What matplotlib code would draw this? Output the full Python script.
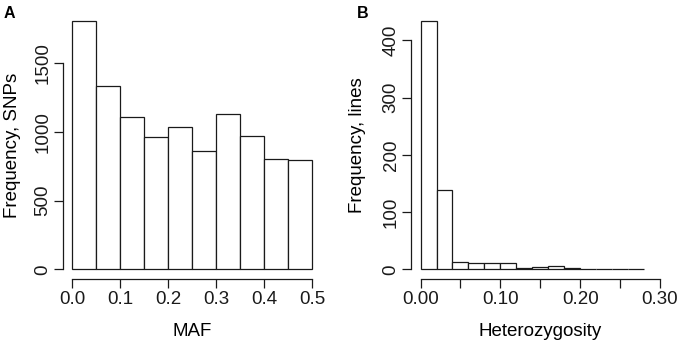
#!/usr/bin/env python3

from matplotlib import pyplot as plt
import numpy as np
import matplotlib

# Panel A: minor allele frequency histogram (bin width 0.05)
maf_edges = [0.0, 0.05, 0.10, 0.15, 0.20, 0.25, 0.30, 0.35, 0.40, 0.45, 0.50]
maf_counts = [1806, 1332, 1106, 963, 1031, 863, 1128, 968, 800, 793]
maf_xticks = [0.0, 0.1, 0.2, 0.3, 0.4, 0.5]
maf_xticklabels = ["0.0", "0.1", "0.2", "0.3", "0.4", "0.5"]
maf_yticks = [0, 500, 1000, 1500]

# Panel B: heterozygosity histogram (bin width 0.02)
het_edges = [0.00, 0.02, 0.04, 0.06, 0.08, 0.10, 0.12, 0.14, 0.16,
             0.18, 0.20, 0.22, 0.24, 0.26, 0.28]
het_counts = [434, 138, 13, 11, 11, 11, 3, 4, 6, 2, 1, 0, 1, 1]
het_xticks = [0.00, 0.05, 0.10, 0.15, 0.20, 0.25, 0.30]
het_xticklabels = ["0.00", "", "0.10", "", "0.20", "", "0.30"]
het_yticks = [0, 100, 200, 300, 400]


def setup():
    matplotlib.rcParams.update({
        "font.family": ["Liberation Sans", "DejaVu Sans"],
        "font.size": 13.5,
        "axes.linewidth": 0.9,
        "xtick.major.width": 0.9,
        "ytick.major.width": 0.9,
        "xtick.major.size": 6.2,
        "ytick.major.size": 6.2,
        "xtick.major.pad": 2.0,
        "ytick.major.pad": 2.0,
    })


def r_hist(ax, edges, counts, xlim, xticks, xticklabels, yticks,
           xlabel, ylabel, ylab_x):
    edges = np.asarray(edges)
    counts = np.asarray(counts)
    ax.bar(edges[:-1], counts, width=np.diff(edges), align="edge",
           facecolor="white", edgecolor="#1a1a1a", linewidth=0.9)

    # R style: 4% padding around the data range
    xr = xlim[1] - xlim[0]
    ymax = counts.max()
    ax.set_xlim(xlim[0] - 0.04 * xr, xlim[1] + 0.04 * xr)
    ax.set_ylim(-0.04 * ymax, ymax * 1.04)

    for s in ["top", "right"]:
        ax.spines[s].set_visible(False)
    ax.spines["left"].set_bounds(yticks[0], yticks[-1])
    ax.spines["bottom"].set_bounds(xticks[0], xticks[-1])
    ax.spines["left"].set_color("#1a1a1a")
    ax.spines["bottom"].set_color("#1a1a1a")

    ax.set_xticks(xticks)
    ax.set_xticklabels(xticklabels)
    ax.set_yticks(yticks)
    ax.set_yticklabels([str(t) for t in yticks], rotation=90, va="center")
    ax.tick_params(colors="#1a1a1a", labelcolor="#1a1a1a")

    ax.set_xlabel(xlabel)
    ax.xaxis.label.set_va("center")
    ax.xaxis.set_label_coords(0.5, -0.195)
    ax.set_ylabel(ylabel)
    ax.yaxis.label.set_va("center")
    ax.yaxis.set_label_coords(ylab_x, 0.5)


def main():
    setup()
    fig = plt.figure(figsize=(6.8, 3.45), dpi=100)

    ax1 = fig.add_axes([0.0922, 0.1904, 0.3813, 0.7783])
    r_hist(ax1, maf_edges, maf_counts, (0.0, 0.5), maf_xticks,
           maf_xticklabels, maf_yticks, "MAF", "Frequency, SNPs", -0.195)

    ax2 = fig.add_axes([0.6044, 0.1904, 0.3803, 0.7783])
    r_hist(ax2, het_edges, het_counts, (0.0, 0.30), het_xticks,
           het_xticklabels, het_yticks, "Heterozygosity",
           "Frequency, lines", -0.205)

    fig.text(0.006, 1 - 17.5 / 345, "A", fontsize=11.5, fontweight="bold",
             va="baseline", ha="left")
    fig.text(357 / 680, 1 - 17.5 / 345, "B", fontsize=11.5, fontweight="bold",
             va="baseline", ha="left")

    fig.savefig("out.png", dpi=100)


if __name__ == "__main__":
    main()
